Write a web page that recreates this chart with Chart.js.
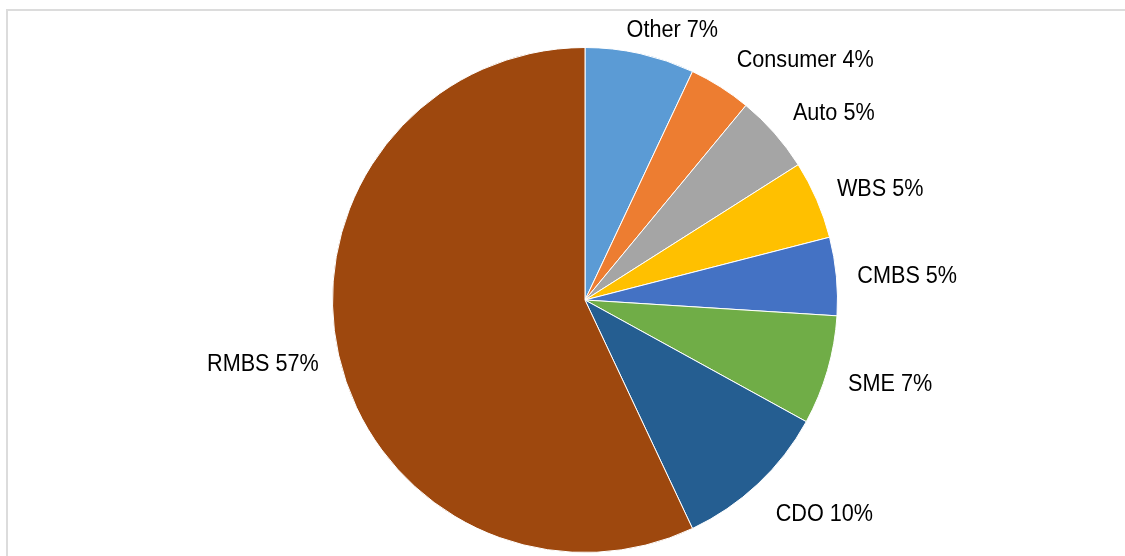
<!DOCTYPE html>
<html>
<head>
<meta charset="utf-8">
<script src="https://cdn.jsdelivr.net/npm/chart.js@4.4.1/dist/chart.umd.min.js"></script>
<style>
    html, body { margin: 0; padding: 0; background: #fff; }
    #wrap { position: relative; width: 1125px; height: 556px; overflow: hidden; }
    #frame {
        position: absolute; left: 6px; top: 9px; width: 1200px; height: 600px;
        border-top: 2px solid #dcdcdc; border-left: 2px solid #dcdcdc;
    }
    #chart { position: absolute; left: 0; top: 0; }
</style>
</head>
<body>
<div id="wrap">
    <div id="frame"></div>
    <canvas id="chart" width="1125" height="556"></canvas>
</div>
<script>
const categories = ['Other', 'Consumer', 'Auto', 'WBS', 'CMBS', 'SME', 'CDO', 'RMBS'];
const shares = [7, 4, 5, 5, 5, 7, 10, 57];
const sliceColors = ['#5b9bd5', '#ed7d31', '#a5a5a5', '#ffc000', '#4472c4', '#70ad47', '#255e91', '#9e480e'];

// draws "Name NN%" outside each slice, Excel-style (narrow font look)
const outsideLabels = {
    id: 'outsideLabels',
    afterDatasetsDraw(chart) {
        const ctx = chart.ctx;
        const meta = chart.getDatasetMeta(0);
        const squeeze = 0.94;
        ctx.save();
        ctx.font = '23px "Liberation Sans", Arial, sans-serif';
        ctx.fillStyle = '#000';
        ctx.textBaseline = 'middle';
        meta.data.forEach((arc, i) => {
            const mid = (arc.startAngle + arc.endAngle) / 2;
            const a = mid + Math.PI / 2; // angle from top, clockwise
            const r = arc.outerRadius + 10;
            const px = arc.x + r * Math.sin(a);
            const py = arc.y - r * Math.cos(a);
            const text = `${categories[i]} ${shares[i]}%`;
            let x, y, align;
            if (Math.abs(Math.sin(a)) < 0.3) {
                // near the top: Excel pushes it a bit sideways
                align = 'center';
                x = px + 30;
                y = py - 13;
            } else if (Math.sin(a) >= 0) {
                align = 'left';
                x = px + 11;
                y = py - 26 * Math.cos(a) + 4;
            } else {
                align = 'right';
                x = px - 10;
                y = py - 24 * Math.cos(a) + 2;
            }
            ctx.save();
            ctx.translate(x, y);
            ctx.scale(squeeze, 1);
            ctx.textAlign = align;
            ctx.fillText(text, 0, 0);
            ctx.restore();
        });
        ctx.restore();
    }
};

new Chart(document.getElementById('chart'), {
    type: 'pie',
    data: {
        labels: categories,
        datasets: [{
            data: shares,
            backgroundColor: sliceColors,
            borderColor: '#fff',
            borderWidth: 1
        }]
    },
    options: {
        responsive: false,
        animation: false,
        layout: {
            padding: { left: 332, right: 287, top: 47, bottom: 3 }
        },
        plugins: {
            legend: { display: false },
            tooltip: { enabled: false }
        }
    },
    plugins: [outsideLabels]
});
</script>
</body>
</html>
